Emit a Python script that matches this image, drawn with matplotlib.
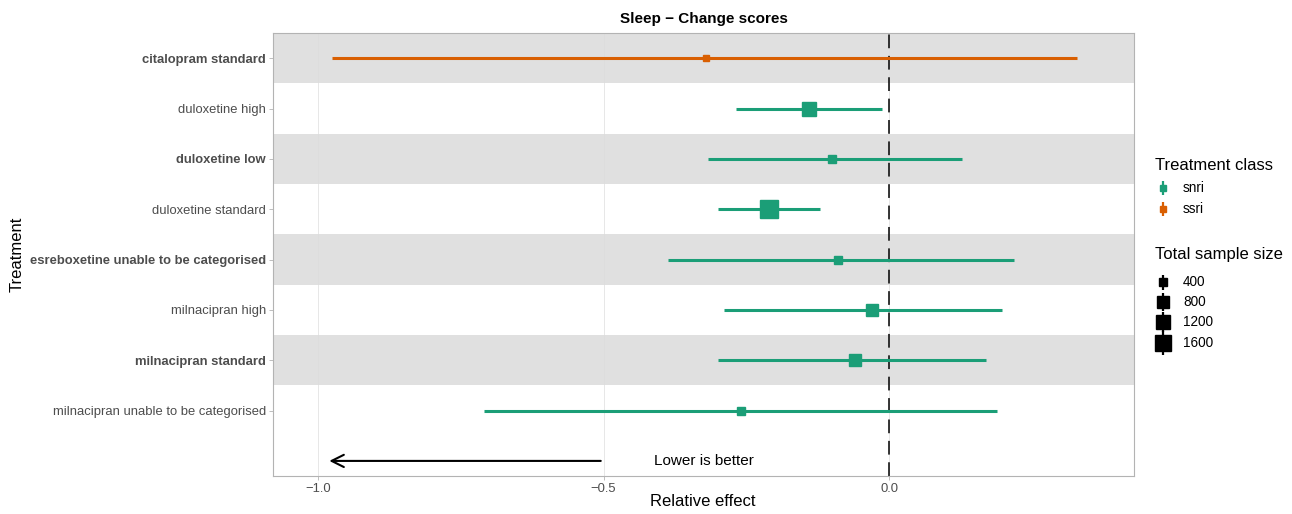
import numpy as np
import matplotlib.pyplot as plt
from matplotlib.lines import Line2D

plt.rcParams["font.family"] = ["Liberation Sans", "DejaVu Sans"]

# ---- data (top to bottom) ----
treatments = [
    "citalopram standard", "duloxetine high", "duloxetine low",
    "duloxetine standard", "esreboxetine unable to be categorised",
    "milnacipran high", "milnacipran standard",
    "milnacipran unable to be categorised",
]
classes = ["ssri", "snri", "snri", "snri", "snri", "snri", "snri", "snri"]
effect = [-0.320, -0.140, -0.100, -0.210, -0.089, -0.030, -0.059, -0.259]
lower = [-0.976, -0.268, -0.317, -0.299, -0.388, -0.289, -0.299, -0.709]
upper = [0.329, -0.012, 0.128, -0.121, 0.219, 0.198, 0.170, 0.189]
sample_size = [250, 1300, 450, 1800, 450, 750, 750, 350]
bold_rows = [True, False, True, False, True, False, True, False]

legend_sizes = [400, 800, 1200, 1600]
class_colors = {"snri": "#1B9E77", "ssri": "#D95F02"}

W, H = 1292, 514


def msize(n):
    return np.sqrt(n) * 0.29


def fx(px):
    return px / W


def fy(py):
    return 1 - py / H


fig = plt.figure(figsize=(12.92, 5.14), dpi=100)
ax = fig.add_axes([0.2113, 0.0739, 0.6664, 0.8619])

n = len(treatments)
ypos = np.arange(n, 0, -1)

ax.set_xlim(-1.0787, 0.4287)
ax.set_ylim(-0.3, n + 0.5)

# alternating bands
for y, b in zip(ypos, bold_rows):
    if b:
        ax.axhspan(y - 0.5, y + 0.5, color="#E0E0E0", lw=0, zorder=0)

for x in [-1.0, -0.5, 0.0]:
    ax.axvline(x, color="#DCDCDC", lw=0.6, zorder=0.5, alpha=0.8)

ax.axvline(0, color="black", lw=1.1, ls=(0, (9, 5)), zorder=1)

for y, c, e, lo, hi, s in zip(ypos, classes, effect, lower, upper, sample_size):
    col = class_colors[c]
    ax.plot([lo, hi], [y, y], color=col, lw=2.2, zorder=2, solid_capstyle="butt")
    ax.plot(e, y, marker="s", color=col, markersize=msize(s), zorder=3, lw=0)

# arrow row
ax.annotate("", xy=(-0.985, 0), xytext=(-0.5, 0),
            arrowprops=dict(arrowstyle="->", color="black", lw=1.5,
                            mutation_scale=22))
ax.text(-0.325, 0, "Lower is better", ha="center", va="center", fontsize=11)

ax.set_yticks(ypos)
ax.set_yticklabels(treatments)
for lab, b in zip(ax.get_yticklabels(), bold_rows):
    if b:
        lab.set_fontweight("bold")
ax.set_xticks([-1.0, -0.5, 0.0])
ax.set_xticklabels(["\u22121.0", "\u22120.5", "0.0"])
ax.tick_params(axis="both", colors="#B3B3B3", labelcolor="#4D4D4D",
               labelsize=9.4, length=3, width=0.6, pad=2)

for sp in ax.spines.values():
    sp.set_color("#B3B3B3")
    sp.set_linewidth(0.8)

fig.text(fx(703), fy(502), "Relative effect", fontsize=12,
         ha="center", va="center")
fig.text(fx(17), fy(254), "Treatment", fontsize=12,
         ha="center", va="center", rotation=90)
ax.set_title("Sleep \u2212 Change scores", fontsize=11, fontweight="bold", pad=7)


# legends (drawn by hand in figure coordinates)
def key(px_y, col, size):
    fig.add_artist(Line2D([fx(1163)], [fy(px_y)], transform=fig.transFigure,
                          color=col, marker="|", markersize=size * 1.0 + 5,
                          mew=1.6, lw=0))
    fig.add_artist(Line2D([fx(1163)], [fy(px_y)], transform=fig.transFigure,
                          color=col, marker="s", markersize=size, lw=0))


fig.text(fx(1155), fy(165), "Treatment class", fontsize=12, va="center")
for c, py in zip(["snri", "ssri"], [188, 209]):
    key(py, class_colors[c], 4.5)
    fig.text(fx(1183), fy(py), c, fontsize=9.8, va="center")

fig.text(fx(1155), fy(255), "Total sample size", fontsize=12, va="center")
for s, py in zip(legend_sizes, [282, 302, 322, 343]):
    key(py, "black", msize(s))
    fig.text(fx(1183), fy(py), str(s), fontsize=9.8, va="center")

fig.savefig("out.png", dpi=100)
